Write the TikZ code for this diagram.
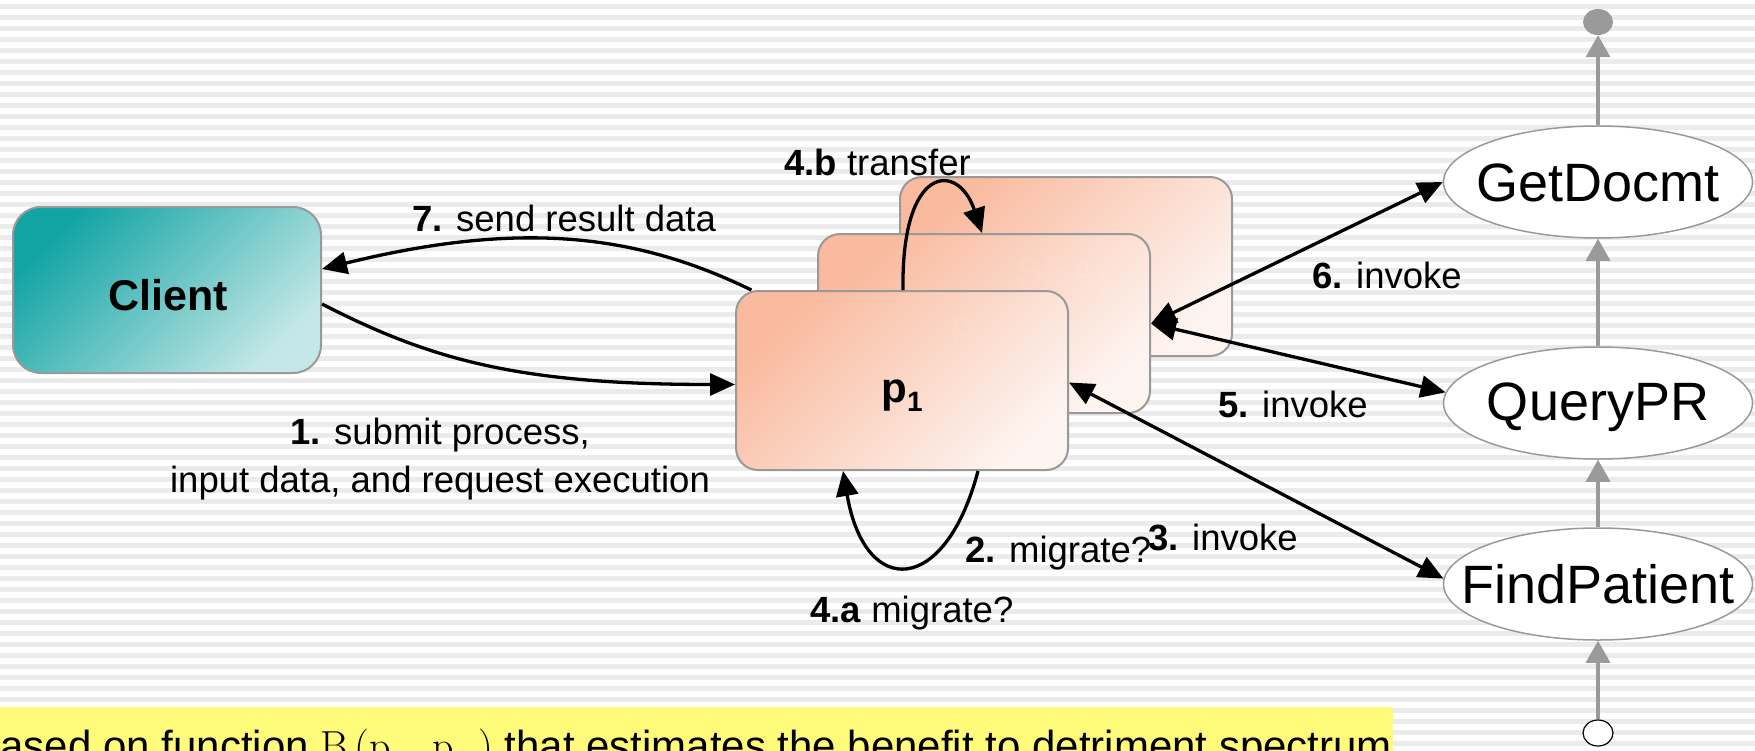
\documentclass[tikz,border=0pt]{standalone}
\usepackage{fontspec}
\newfontfamily\arial{Liberation Sans}
\usetikzlibrary{arrows.meta,shapes.geometric}
\definecolor{stripe}{HTML}{EBEBEB}
\definecolor{tealA}{HTML}{12A4A4}
\definecolor{tealB}{HTML}{C4E7E7}
\definecolor{salA}{HTML}{F9BA9E}
\definecolor{salB}{HTML}{FDF3EF}
\definecolor{edge}{HTML}{999999}
\definecolor{garrow}{HTML}{9A9A9A}
\definecolor{hilite}{HTML}{FFFA7A}
\newcommand{\lowsub}[2]{\raisebox{-0.22em}{\fontsize{#1}{#1}\selectfont #2}}
\begin{document}
\begin{tikzpicture}[x=1pt,y=-1pt,
  clientbox/.style={rectangle, rounded corners=28pt, draw=edge, line width=2pt,
    top color=tealA, bottom color=tealB, shading angle=45,
    minimum width=308pt, minimum height=166pt, inner sep=0pt},
  procbox/.style={rectangle, rounded corners=22pt, draw=edge, line width=2pt,
    top color=salA, bottom color=salB, shading angle=45,
    minimum width=332pt, minimum height=179pt, inner sep=0pt},
  svc/.style={ellipse, draw=edge, line width=1.5pt, fill=white,
    minimum width=309pt, minimum height=112pt, inner sep=0pt},
  svctext/.style={font=\arial\fontsize{54}{54}\selectfont, inner sep=0pt, anchor=base},
  lbl/.style={font=\arial\fontsize{36.5}{48}\selectfont, inner sep=0pt, anchor=base west},
  ghost/.style={font=\arial\bfseries\fontsize{40}{40}\selectfont, text=white, opacity=0.07, inner sep=0pt, anchor=base},
  conn/.style={line width=3.3pt, -{Triangle[length=25pt,width=22pt]}},
  dconn/.style={line width=3.3pt, {Triangle[length=25pt,width=22pt]}-{Triangle[length=25pt,width=22pt]}},
  garr/.style={draw=garrow, line width=3.5pt, -{Triangle[length=22pt,width=24pt]}}
]
\path[use as bounding box] (0,0) rectangle (1755,750);
\begin{scope}
\clip (0,0) rectangle (1755,750);
\fill[white] (0,0) rectangle (1755,750);
\foreach \k in {0,...,68} \fill[stripe] (0,{4.3+11*\k}) rectangle (1755,{9.3+11*\k});

% boxes
\node[clientbox] (client) at (167,290) {};
\node[font=\arial\bfseries\fontsize{43}{43}\selectfont, inner sep=0pt, anchor=base] (clienttxt) at (168,310) {Client};
\node[procbox] (back) at (1066,266.5) {};
\node[procbox] (mid) at (984,323.5) {};
\node[ghost] (g3) at (1065,285) {SEA\lowsub{27}{3}};
\node[procbox] (front) at (902,380.5) {};
\node[ghost] (g2) at (970,338) {p\lowsub{27}{2}};
\node[font=\arial\bfseries\fontsize{42}{42}\selectfont, inner sep=0pt, anchor=base] (p1) at (902,402) {p\lowsub{28}{1}};

% services
\node[ellipse, fill=garrow, minimum width=30pt, minimum height=26pt, inner sep=0pt] (topdot) at (1598,22) {};
\node[svc] (get) at (1598,182) {};
\node[svc] (query) at (1598,403) {};
\node[svc] (find) at (1598,584) {};
\node[svctext] (gett) at (1598,201) {GetDocmt};
\node[svctext] (queryt) at (1598,420) {QueryPR};
\node[svctext] (findt) at (1598,603) {FindPatient};
\node[ellipse, draw=black, line width=1.2pt, fill=white, minimum width=30pt, minimum height=26pt, inner sep=0pt] (startc) at (1598,733) {};

\draw[garr] (get.north) -- (topdot.south);
\draw[garr] (query.north) -- (get.south);
\draw[garr] (find.north) -- (query.south);
\draw[garr] (startc.north) -- (find.south);

% connectors
\draw[conn] ([yshift=-14pt]client.east) .. controls +(109,56) and +(-216,0) .. ([yshift=-4pt]front.west);
\draw[conn] (front.149) .. controls +(-115,-56) and +(199,-49) .. ([yshift=21pt]client.east);
\draw[conn] ([xshift=76pt]front.south) .. controls +(-33,125) and +(22,128) .. ([xshift=-59pt]front.south);
\draw[conn] ([xshift=1pt]front.north) .. controls +(-2,-126) and +(-24,-72) .. ([xshift=-2pt]mid.north);
\draw[dconn] (mid.east) -- (get.west);
\draw[dconn] (mid.east) -- (query.176);
\draw[dconn] ([yshift=-2pt]front.east) -- (find.178);

% labels
\node[lbl] (l7) at (412,231) {\textbf{7.} send result data};
\node[lbl, anchor=base] (l1a) at (440,444) {\textbf{1.} submit process,};
\node[lbl, anchor=base] (l1b) at (440,492) {input data, and request execution};
\node[lbl] (l4b) at (784,175) {\textbf{4.b} transfer};
\node[lbl] (l6) at (1312,288) {\textbf{6.} invoke};
\node[lbl] (l5) at (1218,417) {\textbf{5.} invoke};
\node[lbl] (l2) at (965,562) {\textbf{2.} migrate?};
\node[lbl] (l3) at (1148,550) {\textbf{3.} invoke};
\node[lbl] (l4a) at (810,622) {\textbf{4.a} migrate?};

% highlighted text line
\fill[hilite] (0,707) rectangle (1393,760);
\node[font=\arial\fontsize{42}{42}\selectfont, inner sep=0pt, anchor=base west] (note) at (-23,760)
  {based on function {\rmfamily B\,(p\hspace{24pt},\,p\hspace{24pt})} that estimates the benefit to detriment spectrum};
\end{scope}
\end{tikzpicture}
\end{document}
